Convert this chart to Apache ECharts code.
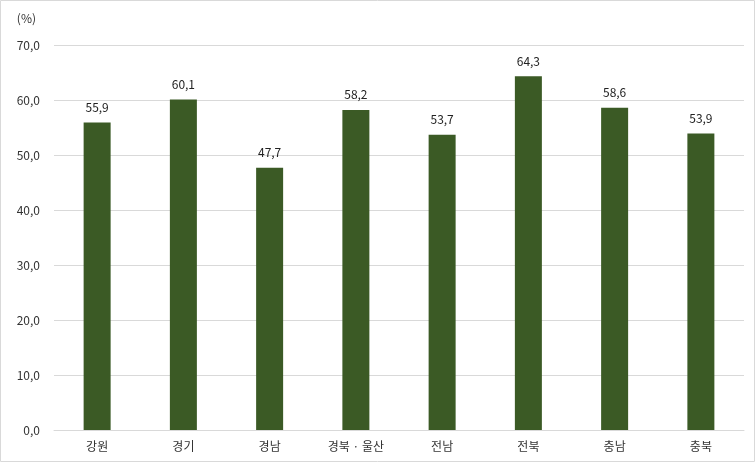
<!DOCTYPE html>
<html><head><meta charset="utf-8">
<script src="https://cdn.jsdelivr.net/npm/echarts@6/dist/echarts.min.js"></script>
<style>html,body{margin:0;padding:0;background:#fff}#c{width:755px;height:462px}</style>
</head><body><div id="c"></div>
<script>
const categories = ['강원','경기','경남','경북 · 울산','전남','전북','충남','충북'];
const values = [55.9, 60.1, 47.7, 58.2, 53.7, 64.3, 58.6, 53.9];
const yTicks = [0, 10, 20, 30, 40, 50, 60, 70];
const unitLabel = '(%)';
const fmt = v => v.toFixed(1).replace('.', ',');
const chart = echarts.init(document.getElementById('c'), null, {renderer:'canvas'});
const font = '"Noto Sans CJK KR", "Noto Sans", sans-serif';
chart.setOption({
  animation:false,
  graphic:[{type:'rect',shape:{x:0.5,y:0.5,width:754,height:461},style:{fill:'none',stroke:'#d9d9d9',lineWidth:1}}],
  grid:{left:54,right:11,top:45,bottom:32,containLabel:false},
  xAxis:{type:'category',data:categories,
    axisLine:{lineStyle:{color:'#d9d9d9'}},axisTick:{show:false},
    axisLabel:{color:'#333',fontSize:12,fontFamily:font,margin:10}},
  yAxis:{type:'value',min:yTicks[0],max:yTicks[yTicks.length-1],interval:10,
    name:unitLabel,nameLocation:'end',nameGap:21,
    nameTextStyle:{color:'#333',fontSize:12,fontFamily:font,align:'right',padding:[0,18,0,0]},
    axisLine:{show:false},axisTick:{show:false},
    splitLine:{lineStyle:{color:'#d9d9d9'}},
    axisLabel:{color:'#333',fontSize:12,fontFamily:font,margin:14,formatter:fmt}},
  series:[{type:'bar',data:values,barWidth:27,
    itemStyle:{color:'#3b5a25'},
    label:{show:true,position:'top',distance:9,color:'#222',fontSize:12,fontFamily:font,formatter:p=>fmt(p.value)}}]
});
</script></body></html>
